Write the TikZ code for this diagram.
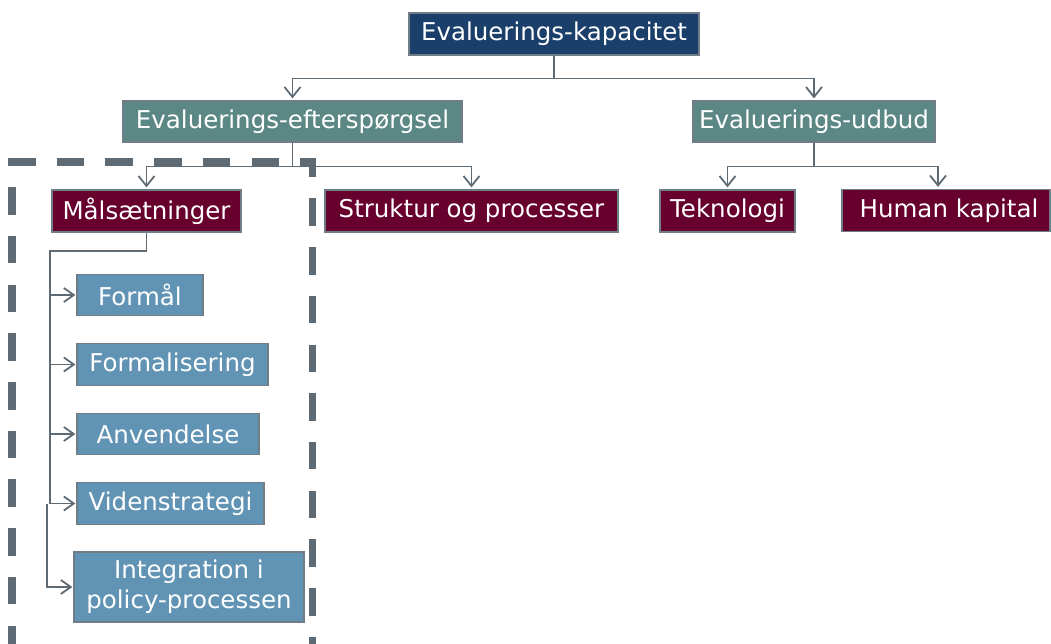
\documentclass[tikz,border=0pt]{standalone}
\usepackage{fontspec}
\setmainfont{DejaVu Sans}
\usetikzlibrary{arrows.meta,calc}

\definecolor{kapblue}{RGB}{27,63,107}
\definecolor{demandteal}{RGB}{91,135,132}
\definecolor{wine}{RGB}{103,0,45}
\definecolor{steel}{RGB}{97,148,180}
\definecolor{edgegray}{RGB}{112,124,134}
\definecolor{linkgray}{RGB}{95,107,116}

\tikzset{
  box/.style={draw=edgegray, line width=1.2pt, text=white, inner sep=0pt,
    font=\fontsize{24.5}{30}\selectfont, align=center},
  toplevel/.style={box, fill=kapblue},
  midlevel/.style={box, fill=demandteal},
  dimbox/.style={box, fill=wine, minimum height=42pt},
  subbox/.style={box, fill=steel, minimum height=41.5pt},
  link/.style={draw=linkgray, line width=1.8pt},
  arrowlink/.style={link, -{Straight Barb[length=10pt,width=16pt]}, shorten >=2pt},
  sidearrow/.style={link, -{Straight Barb[length=10pt,width=14pt]}, shorten >=1pt},
  frame/.style={draw=linkgray, line width=7.5pt, dash pattern=on 27.5pt off 21.2pt,
    line join=miter}
}

\begin{document}
\begin{tikzpicture}[x=1pt,y=-1pt]
\useasboundingbox (0,0) rectangle (1051,644);

% dashed frame around the goal branch
\begin{scope}
  \clip (0,0) rectangle (1051,644);
  \draw[frame] (12,166) -- (12,162) -- (312.5,162) -- (312.5,660);
  \draw[frame, dash phase=27.5pt] (12,166) -- (12,660);
\end{scope}

% boxes
\node[toplevel, minimum width=290pt, minimum height=42pt] (kap) at (554,34) {Evaluerings-kapacitet};
\node[midlevel, minimum width=339pt, minimum height=41pt] (eft) at (292.5,121.5) {Evaluerings-efterspørgsel};
\node[midlevel, minimum width=242pt, minimum height=41pt] (udb) at (814,121.5) {Evaluerings-udbud};

\node[dimbox, minimum width=189pt] (mal) at (146.5,211) {Målsætninger};
\node[dimbox, minimum width=293pt] (str) at (471.5,211) {Struktur og processer};
\node[dimbox, minimum width=135pt] (tek) at (727.5,211) {Teknologi};
\node[dimbox, minimum width=208pt] (hum) at (946,210.5) {\hspace*{6pt}Human kapital};

\node[subbox, minimum width=126pt] (for) at (140,295) {Formål};
\node[subbox, minimum width=191pt] (fml) at (172.5,364.5) {Formalisering};
\node[subbox, minimum width=182pt] (anv) at (168,434) {Anvendelse};
\node[subbox, minimum width=187pt] (vid) at (170.5,503.5) {Videnstrategi};
\node[subbox, minimum width=230pt, minimum height=70pt] (int) at (189,587) {Integration i\\policy-processen};

% top level branches
\draw[link] (kap.south) -- ++(0,23) coordinate (kb);
\draw[arrowlink] (kb) -| (eft.north);
\draw[arrowlink] (kb) -| (udb.north);

\draw[link] (eft.south) -- ++(0,24) coordinate (eb);
\draw[arrowlink] (eb) -| (mal.north);
\draw[arrowlink] (eb) -| (str.north);

\draw[link] (udb.south) -- ++(0,24) coordinate (ub);
\draw[arrowlink] (ub) -| (tek.north);
\draw[arrowlink] (ub) -| ([xshift=-8pt]hum.north);

% goal sub-items
\coordinate (t1) at (50,251);
\coordinate (t2) at (47,251);
\draw[link] (mal.south) |- (t1) -- (t1 |- vid.west);
\foreach \n in {for,fml,anv,vid}
  \draw[sidearrow] (t1 |- \n.west) -- (\n.west);
\draw[sidearrow] (t2 |- vid.west) |- (int.west);
\end{tikzpicture}
\end{document}
